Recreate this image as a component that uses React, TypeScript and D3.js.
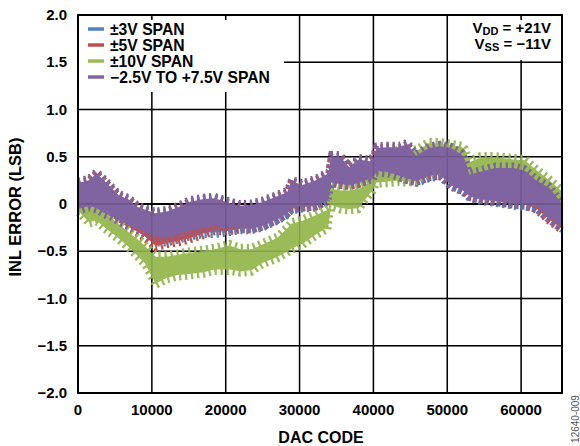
import React from 'react';
import * as d3 from 'd3';

const CODES = [0, 1500, 2500, 3500, 4500, 5500, 7000, 8000, 9000, 10500, 12000, 13500, 15000, 17000, 18500, 20500, 22000, 23500, 25000, 27000, 28300, 28900, 30400, 32200, 33900, 34300, 35500, 36700, 38000, 39500, 40000, 40400, 42000, 43500, 44600, 45800, 47500, 49000, 50500, 52000, 52500, 53000, 54500, 56500, 59000, 60500, 62000, 63800, 65535];

// upper / lower envelope (LSB) of each span
const SPAN3_TOP = [0.26, 0.29, 0.36, 0.29, 0.21, 0.13, 0.08, 0.01, -0.02, -0.06, -0.04, 0.0, 0.06, 0.09, 0.1, 0.05, 0.02, 0.03, 0.06, 0.12, 0.16, 0.28, 0.24, 0.29, 0.36, 0.54, 0.54, 0.43, 0.51, 0.49, 0.53, 0.63, 0.64, 0.64, 0.67, 0.55, 0.63, 0.65, 0.63, 0.56, 0.48, 0.35, 0.38, 0.42, 0.42, 0.39, 0.29, 0.21, 0.04];
const SPAN3_BOT = [-0.12, -0.09, -0.11, -0.16, -0.19, -0.25, -0.3, -0.34, -0.39, -0.45, -0.45, -0.42, -0.39, -0.36, -0.36, -0.34, -0.32, -0.32, -0.29, -0.22, -0.16, -0.11, -0.09, -0.08, -0.02, 0.17, 0.15, 0.14, 0.16, 0.2, 0.21, 0.28, 0.27, 0.23, 0.2, 0.18, 0.23, 0.25, 0.14, 0.09, 0.06, 0.02, -0.01, -0.03, -0.06, -0.07, -0.09, -0.21, -0.31];

const SPAN5_TOP = [0.26, 0.29, 0.36, 0.29, 0.21, 0.13, 0.08, 0.01, -0.02, -0.06, -0.04, 0.0, 0.06, 0.09, 0.1, 0.05, 0.02, 0.03, 0.06, 0.12, 0.16, 0.28, 0.24, 0.29, 0.36, 0.54, 0.54, 0.43, 0.51, 0.49, 0.53, 0.63, 0.64, 0.64, 0.67, 0.55, 0.63, 0.65, 0.63, 0.56, 0.48, 0.35, 0.38, 0.42, 0.42, 0.39, 0.29, 0.21, 0.04];
const SPAN5_BOT = [-0.12, -0.09, -0.11, -0.16, -0.19, -0.25, -0.31, -0.35, -0.4, -0.5, -0.47, -0.45, -0.42, -0.37, -0.33, -0.33, -0.31, -0.31, -0.28, -0.21, -0.15, -0.1, -0.08, -0.07, -0.01, 0.18, 0.16, 0.15, 0.17, 0.21, 0.22, 0.29, 0.28, 0.24, 0.21, 0.19, 0.24, 0.26, 0.15, 0.1, 0.07, 0.03, 0.0, -0.02, -0.05, -0.06, -0.1, -0.22, -0.32];

const SPAN10_TOP = [0.03, 0.04, 0.07, 0.0, -0.09, -0.15, -0.25, -0.31, -0.38, -0.5, -0.5, -0.48, -0.46, -0.44, -0.42, -0.38, -0.42, -0.42, -0.37, -0.3, -0.2, -0.15, -0.12, -0.06, 0.0, 0.22, 0.2, 0.2, 0.22, 0.28, 0.35, 0.5, 0.58, 0.62, 0.62, 0.62, 0.7, 0.7, 0.68, 0.66, 0.62, 0.5, 0.55, 0.55, 0.53, 0.52, 0.42, 0.31, 0.19];
const SPAN10_BOT = [-0.13, -0.25, -0.23, -0.3, -0.36, -0.42, -0.52, -0.6, -0.68, -0.9, -0.84, -0.81, -0.8, -0.78, -0.75, -0.75, -0.77, -0.76, -0.68, -0.62, -0.56, -0.53, -0.48, -0.38, -0.3, -0.07, -0.1, -0.11, -0.1, 0.05, 0.1, 0.17, 0.18, 0.19, 0.18, 0.2, 0.28, 0.32, 0.25, 0.2, 0.15, 0.12, 0.1, 0.08, 0.06, 0.05, 0.02, -0.08, -0.15];

const SPANOFF_TOP = [0.28, 0.31, 0.38, 0.31, 0.23, 0.15, 0.1, 0.03, 0.0, -0.04, -0.02, 0.02, 0.08, 0.11, 0.12, 0.07, 0.04, 0.05, 0.08, 0.14, 0.18, 0.3, 0.26, 0.31, 0.38, 0.56, 0.56, 0.45, 0.53, 0.51, 0.55, 0.65, 0.66, 0.66, 0.69, 0.57, 0.65, 0.67, 0.65, 0.58, 0.5, 0.37, 0.4, 0.44, 0.44, 0.41, 0.31, 0.23, 0.06];
const SPANOFF_BOT = [-0.11, -0.08, -0.1, -0.15, -0.18, -0.23, -0.28, -0.31, -0.35, -0.4, -0.41, -0.38, -0.34, -0.31, -0.29, -0.31, -0.3, -0.31, -0.28, -0.21, -0.15, -0.1, -0.08, -0.07, -0.01, 0.18, 0.16, 0.15, 0.17, 0.21, 0.22, 0.29, 0.28, 0.24, 0.21, 0.19, 0.24, 0.26, 0.15, 0.1, 0.07, 0.03, 0.0, -0.02, -0.05, -0.06, -0.08, -0.2, -0.3];

const LEGEND = ['±3V SPAN', '±5V SPAN', '±10V SPAN', '−2.5V TO +7.5V SPAN'];
const COLORS = ['#4f81bd', '#c0504d', '#9bbb59', '#8064a2'];

const X_TICKS = [0, 10000, 20000, 30000, 40000, 50000, 60000];
const Y_TICKS = [2, 1.5, 1, 0.5, 0, -0.5, -1, -1.5, -2];
const Y_LABELS = ['2.0', '1.5', '1.0', '0.5', '0', '−0.5', '−1.0', '−1.5', '−2.0'];

const FONT = '"Liberation Sans", Arial, Helvetica, sans-serif';
const TOOTH = 6;

const x = d3.scaleLinear().domain([0, 65535]).range([78, 562]);
const y = d3.scaleLinear().domain([-2, 2]).range([393, 15]);

export default function App() {
  const series = [
    { top: SPAN3_TOP, bot: SPAN3_BOT },
    { top: SPAN5_TOP, bot: SPAN5_BOT },
    { top: SPAN10_TOP, bot: SPAN10_BOT },
    { top: SPANOFF_TOP, bot: SPANOFF_BOT },
  ];

  const [x0, x1] = x.range();
  const [y0, y1] = y.range();

  const grid = (opacity: number) => (
    <g stroke="#000" opacity={opacity}>
      {X_TICKS.slice(1).map(t => (
        <line key={'gx' + t} x1={x(t)} x2={x(t)} y1={y1} y2={y0} strokeWidth={1.5} />
      ))}
      {Y_TICKS.slice(1, -1).map(t => (
        <line key={'gy' + t} x1={x0} x2={x1} y1={y(t)} y2={y(t)} strokeWidth={t === 0 ? 2 : 1.5} />
      ))}
    </g>
  );

  return (
    <svg width={580} height={446} style={{ position: 'absolute', left: 0, top: 0, background: '#fff' }}>
      {grid(1)}

      {series.map((s, k) => {
        const body = d3.area<number>()
          .x((_, i) => x(CODES[i]))
          .y1((_, i) => y(s.top[i]) + TOOTH - 0.5)
          .y0((_, i) => y(s.bot[i]) - TOOTH + 0.5);
        const upper = d3.line<number>()
          .x((_, i) => x(CODES[i]))
          .y((_, i) => y(s.top[i]) + TOOTH / 2);
        const lower = d3.line<number>()
          .x((_, i) => x(CODES[i]))
          .y((_, i) => y(s.bot[i]) - TOOTH / 2);
        return (
          <g key={k} fill="none" stroke={COLORS[k]}>
            <path d={body(CODES) || ''} fill={COLORS[k]} stroke="none" />
            <path d={upper(CODES) || ''} strokeWidth={TOOTH} strokeDasharray="2.3 3.7" />
            <path d={lower(CODES) || ''} strokeWidth={TOOTH} strokeDasharray="2.3 3.7" strokeDashoffset={1.5} />
          </g>
        );
      })}

      {grid(0.12)}

      {/* legend */}
      <rect x={x0 + 1} y={20} width={205} height={72} fill="#fff" />
      {LEGEND.map((d, i) => (
        <g key={d}>
          <line x1={88} x2={104} y1={29 + i * 16} y2={29 + i * 16} stroke={COLORS[i]} strokeWidth={3.5} />
          <text x={110} y={34.5 + i * 16} fontFamily={FONT} fontWeight="bold" fontSize={15.7} fill="#000">{d}</text>
        </g>
      ))}

      {/* supply annotation */}
      <rect x={460} y={20} width={96} height={40} fill="#fff" />
      <text x={551} y={32.5} textAnchor="end" fontFamily={FONT} fontWeight="bold" fontSize={15} fill="#000">
        V<tspan fontSize={11} dy={2.5}>DD</tspan><tspan dy={-2.5}> = +21V</tspan>
      </text>
      <text x={551} y={48.5} textAnchor="end" fontFamily={FONT} fontWeight="bold" fontSize={15} fill="#000">
        V<tspan fontSize={11} dy={2.5}>SS</tspan><tspan dy={-2.5}> = −11V</tspan>
      </text>

      {/* frame */}
      <rect x={x0} y={y1} width={x1 - x0} height={y0 - y1} fill="none" stroke="#000" strokeWidth={2} />

      {/* tick labels */}
      {Y_TICKS.map((t, i) => (
        <text key={'yl' + t} x={67} y={y(t) + 5.2} textAnchor="end" fontFamily={FONT} fontWeight="bold" fontSize={15} fill="#000">
          {Y_LABELS[i]}
        </text>
      ))}
      {X_TICKS.map(t => (
        <text key={'xl' + t} x={x(t)} y={414.5} textAnchor="middle" fontFamily={FONT} fontWeight="bold" fontSize={15} fill="#000">
          {String(t)}
        </text>
      ))}

      <text x={321} y={443} textAnchor="middle" fontFamily={FONT} fontWeight="bold" fontSize={16} fill="#000">DAC CODE</text>
      <text transform="translate(21,207) rotate(-90)" textAnchor="middle" fontFamily={FONT} fontWeight="bold" fontSize={16.5} fill="#000">
        INL ERROR (LSB)
      </text>
      <text transform="translate(579,419) rotate(-90)" textAnchor="middle" fontFamily={FONT} fontSize={10} fill="#555">
        12640-009
      </text>
    </svg>
  );
}
